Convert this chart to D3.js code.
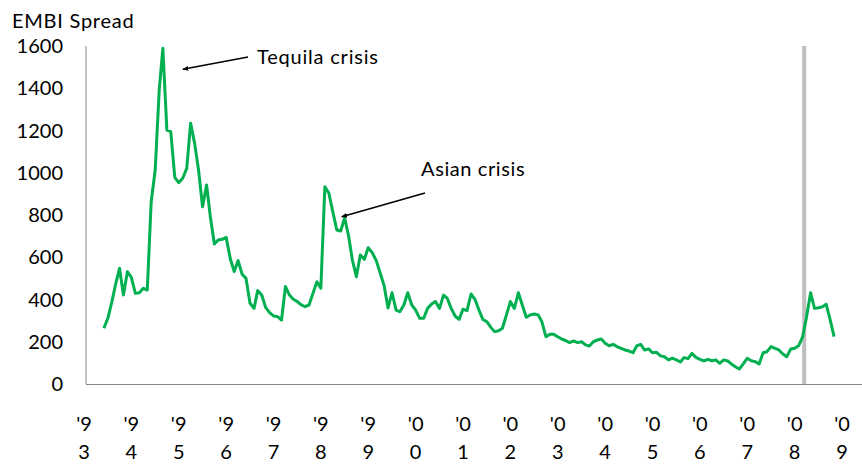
<!DOCTYPE html>
<html>
<head>
<meta charset="utf-8">
<script src="https://cdn.jsdelivr.net/npm/d3@7"></script>
<style>
  html, body { margin: 0; padding: 0; background: #fff; }
  svg { display: block; font-family: Lato, "Open Sans", sans-serif; }
</style>
</head>
<body>
<svg id="chart" width="862" height="464"></svg>
<script>
// ---- data ----
const startYear = 1993, startMonth = 12; // first monthly observation: Dec 1993
const spread = [
  264, 311, 390, 470, 548, 421, 532, 505, 429, 432, 453, 445,
  863, 1013, 1392, 1589, 1202, 1195, 978, 953, 974, 1021, 1234, 1139,
  1013, 839, 942, 792, 663, 682, 685, 694, 595, 532, 584, 520,
  500, 382, 358, 442, 421, 363, 338, 322, 319, 303, 461, 421,
  401, 390, 374, 366, 374, 429, 484, 453, 934, 903, 816, 729,
  724, 787, 697, 587, 508, 611, 590, 645, 622, 584, 527, 465,
  360, 432, 350, 342, 374, 432, 374, 350, 311, 311, 358, 379,
  390, 358, 421, 406, 358, 322, 306, 354, 347, 426, 401, 350,
  306, 295, 268, 248, 252, 264, 327, 390, 358, 432, 374, 316,
  327, 331, 327, 295, 224, 235, 235, 224, 213, 205, 196, 204,
  196, 200, 185, 180, 200, 208, 213, 193, 181, 188, 177, 169,
  161, 156, 148, 180, 188, 161, 166, 148, 150, 133, 129, 114,
  122, 114, 104, 125, 120, 145, 126, 117, 109, 117, 110, 114,
  98, 114, 109, 95, 82, 71, 95, 122, 110, 106, 95, 148,
  153, 177, 169, 161, 142, 129, 166, 169, 181, 224, 319, 432,
  358, 361, 366, 377, 303, 224
];
const yearLabels = ["'93","'94","'95","'96","'97","'98","'99","'00","'01","'02","'03","'04","'05","'06","'07","'08","'09"];
const labelYears = [1993,1994,1995,1996,1997,1998,1999,2000,2001,2002,2003,2004,2005,2006,2007,2008,2009];
const yTicks = [0, 200, 400, 600, 800, 1000, 1200, 1400, 1600];
const crisisMarker = { year: 2008, month: 9 };
const annotations = [
  { text: "Tequila crisis", year: 1995, month: 3, value: 1589 },
  { text: "Asian crisis", year: 1998, month: 12, value: 787 }
];

// ---- layout ----
const svg = d3.select("#chart");
const plot = { left: 86, right: 862, top: 46, bottom: 384 };

const x = d3.scaleTime()
  .domain([new Date(1993, 6, 1), new Date(2009, 6, 1)])
  .range([84, 842]);
const y = d3.scaleLinear().domain([0, 1600]).range([plot.bottom, plot.top]);

const points = spread.map((v, i) => ({ date: new Date(startYear, startMonth - 1 + i, 1), value: v }));

// defs: arrowhead
svg.append("defs").append("marker")
  .attr("id", "arrow")
  .attr("viewBox", "0 0 10 10")
  .attr("refX", 9).attr("refY", 5)
  .attr("markerWidth", 6).attr("markerHeight", 6)
  .attr("markerUnits", "userSpaceOnUse")
  .attr("orient", "auto")
  .append("path").attr("d", "M0,1 L10,5 L0,9 Z").attr("fill", "#000");

// grey crisis marker
const cx = x(new Date(crisisMarker.year, crisisMarker.month - 1, 1));
svg.append("rect")
  .attr("x", cx - 0.5).attr("y", plot.top)
  .attr("width", 4).attr("height", plot.bottom - plot.top)
  .attr("fill", "#bfbfbf");

// axes lines
svg.append("line")
  .attr("x1", plot.left).attr("x2", plot.left)
  .attr("y1", plot.top).attr("y2", plot.bottom)
  .attr("stroke", "#868686").attr("stroke-width", 1);
svg.append("line")
  .attr("x1", plot.left).attr("x2", plot.right)
  .attr("y1", plot.bottom + 0.5).attr("y2", plot.bottom + 0.5)
  .attr("stroke", "#868686").attr("stroke-width", 1);

// y tick labels
svg.append("g").selectAll("text").data(yTicks).join("text")
  .attr("x", 63).attr("y", d => y(d) + 7)
  .attr("text-anchor", "end")
  .attr("font-size", 20).attr("fill", "#000")
  .text(d => d);

// y title
svg.append("text")
  .attr("x", 12).attr("y", 28)
  .attr("font-size", 20).attr("letter-spacing", 0.75).attr("fill", "#000")
  .text("EMBI Spread");

// x labels (wrapped in two lines)
const xl = svg.append("g").selectAll("text").data(yearLabels).join("text")
  .attr("text-anchor", "middle")
  .attr("font-size", 20).attr("fill", "#000");
xl.append("tspan")
  .attr("x", (d, i) => x(new Date(labelYears[i], 6, 1)))
  .attr("y", 431)
  .text(d => d.slice(0, 2));
xl.append("tspan")
  .attr("x", (d, i) => x(new Date(labelYears[i], 6, 1)))
  .attr("y", 459)
  .text(d => d.slice(2));

// line
const line = d3.line().x(d => x(d.date)).y(d => y(d.value));
svg.append("path")
  .datum(points)
  .attr("d", line)
  .attr("fill", "none")
  .attr("stroke", "#00b050")
  .attr("stroke-width", 3)
  .attr("stroke-linejoin", "round");

// annotations
const a0 = annotations[0], a1 = annotations[1];
svg.append("text").attr("x", 257).attr("y", 64)
  .attr("font-size", 20).attr("letter-spacing", 0.8).attr("fill", "#000").text(a0.text);
svg.append("line")
  .attr("x1", 248).attr("y1", 57)
  .attr("x2", x(new Date(a0.year, a0.month - 1, 1)) + 20).attr("y2", y(a0.value) + 21)
  .attr("stroke", "#000").attr("stroke-width", 1.5)
  .attr("marker-end", "url(#arrow)");

svg.append("text").attr("x", 421).attr("y", 176)
  .attr("font-size", 20).attr("letter-spacing", 0.6).attr("fill", "#000").text(a1.text);
svg.append("line")
  .attr("x1", 425).attr("y1", 193)
  .attr("x2", x(new Date(a1.year, a1.month - 1, 1)) + 1).attr("y2", y(a1.value) - 1)
  .attr("stroke", "#000").attr("stroke-width", 1.5)
  .attr("marker-end", "url(#arrow)");
</script>
</body>
</html>
